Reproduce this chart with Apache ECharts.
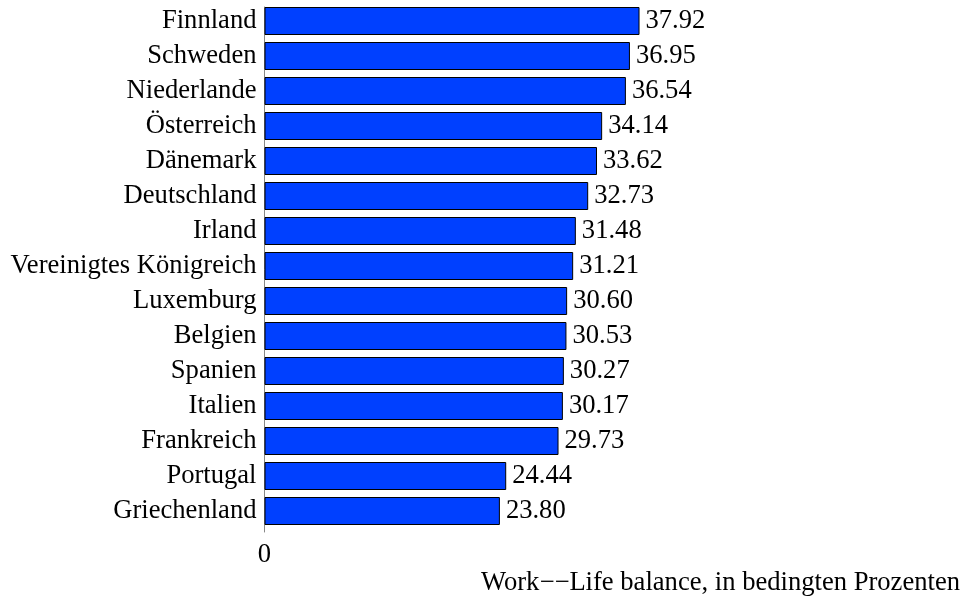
<!DOCTYPE html>
<html>
<head>
<meta charset="utf-8">
<script src="https://cdn.jsdelivr.net/npm/echarts@6/dist/echarts.min.js"></script>
<style>html,body{margin:0;padding:0;background:#fff;}#c{width:965px;height:600px;}</style>
</head>
<body>
<div id="c"></div>
<script>
var categories = ["Finnland","Schweden","Niederlande","Österreich","Dänemark","Deutschland","Irland","Vereinigtes Königreich","Luxemburg","Belgien","Spanien","Italien","Frankreich","Portugal","Griechenland"];
var values = [37.92,36.95,36.54,34.14,33.62,32.73,31.48,31.21,30.60,30.53,30.27,30.17,29.73,24.44,23.80];
var axisTitle = "Work\u2212\u2212Life balance, in bedingten Prozenten";
var xTickLabels = ["0"];

var FONT = "Liberation Serif";
var FS = 26.6;
var chart = echarts.init(document.getElementById('c'), null, {renderer:'canvas'});
chart.setOption({
  animation: false,
  backgroundColor: '#fff',
  textStyle: {fontFamily: FONT, color: '#000'},
  title: {
    text: axisTitle, right: 0, top: 565, padding: 5,
    textStyle: {fontFamily: FONT, fontSize: FS, fontWeight: 'normal', color: '#000'}
  },
  grid: [
    {left: 264.5, top: 3.5, height: 525, width: 692.3, containLabel: false},
    {left: 264, top: 7, height: 525, width: 692.3, containLabel: false}
  ],
  xAxis: [
    {gridIndex: 0, type: 'value', min: 0, max: 70, interval: 70,
     axisLine: {show: false}, axisTick: {show: false}, splitLine: {show: false},
     axisLabel: {margin: 13, fontFamily: FONT, fontSize: FS, color: '#000',
       formatter: function(v){ return v === 0 ? xTickLabels[0] : ''; }}},
    {gridIndex: 1, type: 'value', min: 0, max: 70, show: false}
  ],
  yAxis: [
    {gridIndex: 0, type: 'category', data: categories, inverse: true,
     axisLine: {show: false}, axisTick: {show: false},
     axisLabel: {interval: 0, margin: 8, fontFamily: FONT, fontSize: FS, color: '#000'}},
    {gridIndex: 1, type: 'category', data: categories, inverse: true,
     axisLine: {show: true, lineStyle: {color: '#888', width: 1}},
     axisTick: {show: false}, axisLabel: {show: false}}
  ],
  series: [{
    type: 'bar', xAxisIndex: 0, yAxisIndex: 0, data: values,
    barWidth: 28,
    itemStyle: {color: '#0040ff', borderColor: '#000', borderWidth: 1},
    label: {show: true, position: 'right', distance: 6, fontFamily: FONT, fontSize: FS, color: '#000',
      formatter: function(p){ return p.value.toFixed(2); }}
  }]
});
</script>
</body>
</html>
